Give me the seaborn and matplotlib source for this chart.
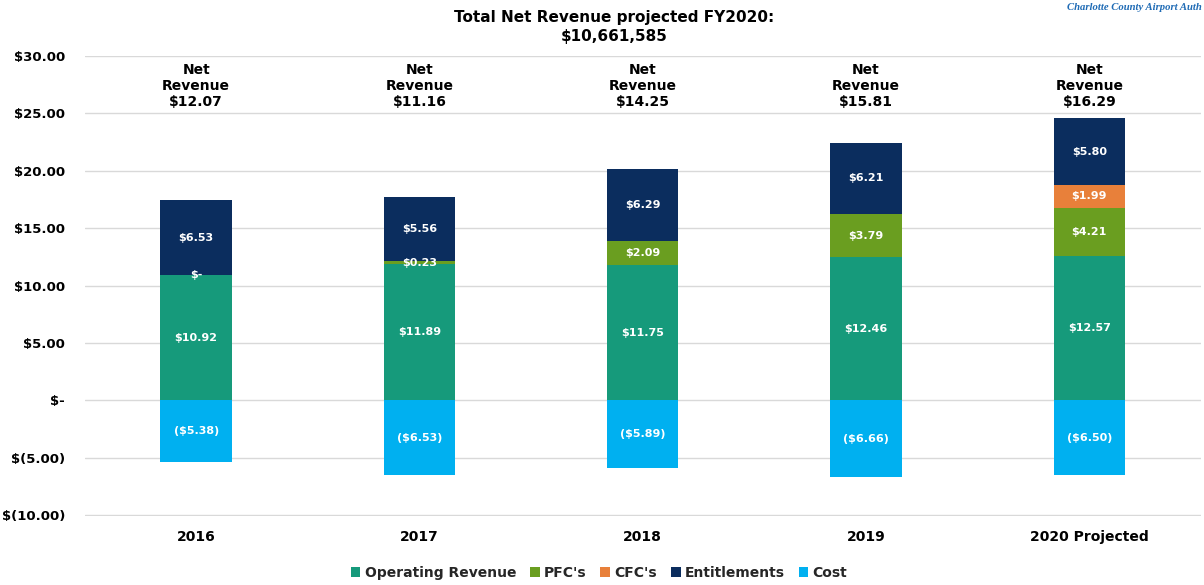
import matplotlib
matplotlib.use("Agg")
import matplotlib.pyplot as plt
import seaborn as sns
import numpy as np
from matplotlib.ticker import FuncFormatter, MultipleLocator
from matplotlib.patches import Patch

# ---- data ----
years = ["2016", "2017", "2018", "2019", "2020 Projected"]
operating = [10.92, 11.89, 11.75, 12.46, 12.57]
pfc = [0.00, 0.23, 2.09, 3.79, 4.21]
cfc = [0.00, 0.00, 0.00, 0.00, 1.99]
entitlements = [6.53, 5.56, 6.29, 6.21, 5.80]
cost = [-5.38, -6.53, -5.89, -6.66, -6.50]
net_revenue = [12.07, 11.16, 14.25, 15.81, 16.29]
series_names = ["Operating Revenue", "PFC's", "CFC's", "Entitlements", "Cost"]
series_colors = ["#169A7B", "#6A9E20", "#E8803A", "#0B2D5E", "#00B0F0"]
title_text = "Total Net Revenue projected FY2020:\n$10,661,585"
corner_text = "Charlotte County Airport Auth"

sns.set_theme(style="white")
plt.rcParams['font.family'] = ['DejaVu Sans']

W, H = 1204, 585
fig = plt.figure(figsize=(W / 100, H / 100), dpi=100)
ax = fig.add_axes([84.5 / W, 1 - 516 / H, (1201 - 84.5) / W, (516 - 56) / H])

pos_series = [operating, pfc, cfc, entitlements]
cums = np.cumsum(np.array(pos_series), axis=0)
bar_w = 0.32

# draw cumulative stacks from top down so each overlays the previous
for i in range(len(pos_series) - 1, -1, -1):
    sns.barplot(x=years, y=cums[i], color=series_colors[i], saturation=1,
                width=bar_w, ax=ax, linewidth=0, zorder=2)
sns.barplot(x=years, y=cost, color=series_colors[4], saturation=1,
            width=bar_w, ax=ax, linewidth=0, zorder=2)


def fmt_val(v):
    if abs(v) < 1e-9:
        return "$-"
    if v < 0:
        return "(${:.2f})".format(-v)
    return "${:.2f}".format(v)


lab_kw = dict(ha="center", va="center", color="white", fontsize=8,
              fontweight="bold", zorder=5)
for j in range(len(years)):
    bottom = 0.0
    for i, s in enumerate(pos_series):
        v = s[j]
        show = (i != 2) or v > 0
        if show:
            ax.text(j, bottom + v / 2, fmt_val(v), **lab_kw)
        bottom += v
    ax.text(j, cost[j] / 2, fmt_val(cost[j]), **lab_kw)
    ax.text(j, 27.4, "Net\nRevenue\n${:.2f}".format(net_revenue[j]),
            ha="center", va="center", fontsize=10, fontweight="bold",
            color="black", linespacing=1.2, zorder=5)

ax.set_ylim(-10.08, 30)
ax.set_xlim(-0.5, len(years) - 0.5)
ax.yaxis.set_major_locator(MultipleLocator(5))


def yfmt(v, _):
    if abs(v) < 1e-9:
        return "$-"
    if v < 0:
        return "$({:.2f})".format(-v)
    return "${:.2f}".format(v)


ax.yaxis.set_major_formatter(FuncFormatter(yfmt))
ax.yaxis.grid(True, color="#D9D9D9", linewidth=1)
ax.xaxis.grid(False)
ax.set_axisbelow(True)
for sp in ax.spines.values():
    sp.set_visible(False)
ax.tick_params(axis="y", length=0, pad=14, labelsize=9.5)
ax.tick_params(axis="x", length=0, pad=10, labelsize=10)
for t in ax.get_yticklabels() + ax.get_xticklabels():
    t.set_fontweight("bold")
    t.set_color("black")
ax.set_xlabel("")
ax.set_ylabel("")

fig.text(614 / W, 1 - 27 / H, title_text, ha="center", va="center",
         fontsize=11, fontweight="bold", linespacing=1.3, color="black")
fig.text(1202 / W, 1 - 8 / H, corner_text, ha="right", va="center",
         fontsize=7.7, fontstyle="italic", fontweight="bold",
         family=["Liberation Serif", "DejaVu Serif"], color="#1F6BB5")

handles = [Patch(facecolor=c, edgecolor="none") for c in series_colors]
fig.legend(handles, series_names, loc="center",
           bbox_to_anchor=(599 / W, 1 - 573 / H), ncol=5, frameon=False,
           prop={"weight": "bold", "size": 10}, handlelength=0.7,
           handleheight=0.7, columnspacing=1.0, handletextpad=0.3)

fig.savefig("out.png", dpi=100)
